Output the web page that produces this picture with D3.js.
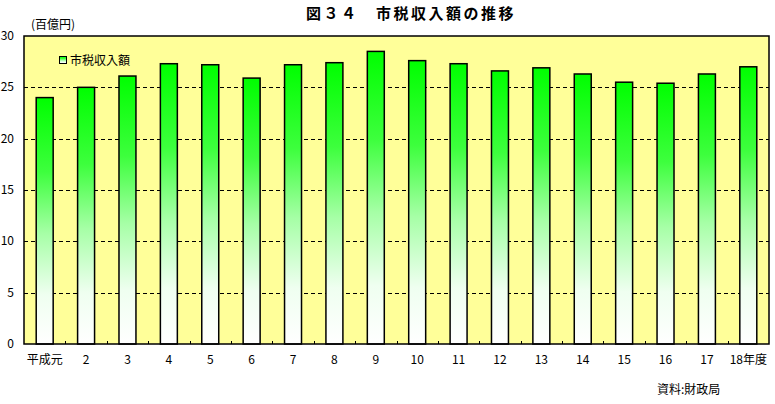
<!DOCTYPE html>
<html>
<head>
<meta charset="utf-8">
<script src="https://cdn.jsdelivr.net/npm/d3@7"></script>
<style>
  html, body { margin: 0; padding: 0; background: #ffffff; }
  svg { display: block; font-family: "Noto Sans CJK JP", "Noto Sans", sans-serif; }
</style>
</head>
<body>
<svg id="chart" width="775" height="404"></svg>
<script>
const categories = ["平成元","2","3","4","5","6","7","8","9","10","11","12","13","14","15","16","17","18年度"];
const taxRevenue = [24.0,25.0,26.1,27.3,27.2,25.9,27.2,27.4,28.5,27.6,27.3,26.6,26.9,26.3,25.5,25.4,26.3,27.0];
const yTicks = [0,5,10,15,20,25,30];
const seriesName = "市税収入額";
const titleText = "図３４　市税収入額の推移";
const unitText = "(百億円)";
const sourceText = "資料:財政局";

const svg = d3.select("#chart");
const m = {left: 24, right: 769, top: 36, bottom: 344};

const x = d3.scaleBand().domain(categories).range([m.left, m.right]).paddingInner(0.59).paddingOuter(0.295);
const xb = d3.scaleBand().domain(categories).range([m.left, m.right]);
const y = d3.scaleLinear().domain([0, 30]).range([m.bottom, m.top]);

const defs = svg.append("defs");
const grad = defs.append("linearGradient").attr("id", "g").attr("x1", 0).attr("y1", 0).attr("x2", 0).attr("y2", 1);
[[0,"#00ff00"],[0.3,"#3dff3d"],[0.55,"#a6ffa6"],[0.8,"#effff0"],[1,"#ffffff"]].forEach(([o,c]) =>
  grad.append("stop").attr("offset", o).attr("stop-color", c));

// plot area background
svg.append("rect").attr("x", m.left).attr("y", m.top).attr("width", m.right - m.left).attr("height", m.bottom - m.top)
  .attr("fill", "#ffff99");

// gridlines
svg.append("g").selectAll("line").data(yTicks.filter(d => d > 0 && d < 30)).join("line")
  .attr("x1", m.left).attr("x2", m.right).attr("y1", d => Math.round(y(d)) + 0.5).attr("y2", d => Math.round(y(d)) + 0.5)
  .attr("stroke", "#000").attr("stroke-width", 1).attr("stroke-dasharray", "4,3");

// x ticks at band boundaries (inside)
svg.append("g").selectAll("line").data(categories.slice(1)).join("line")
  .attr("x1", d => Math.round(xb(d)) + 0.5).attr("x2", d => Math.round(xb(d)) + 0.5)
  .attr("y1", m.bottom).attr("y2", m.bottom - 3).attr("stroke", "#000");

// bars
svg.append("g").selectAll("rect").data(taxRevenue).join("rect")
  .attr("x", (d, i) => x(categories[i]))
  .attr("y", d => y(d))
  .attr("width", x.bandwidth())
  .attr("height", d => y(0) - y(d))
  .attr("fill", "url(#g)")
  .attr("stroke", "#000").attr("stroke-width", 1.5);

// frame
svg.append("rect").attr("x", m.left).attr("y", m.top).attr("width", m.right - m.left).attr("height", m.bottom - m.top)
  .attr("fill", "none").attr("stroke", "#000").attr("stroke-width", 1.5);

// y tick labels
svg.append("g").selectAll("text").data(yTicks).join("text")
  .attr("x", 14).attr("y", d => y(d) + 4).attr("text-anchor", "end")
  .attr("font-size", 12).attr("fill", "#000").text(d => d);

// x labels
svg.append("g").selectAll("text").data(categories).join("text")
  .attr("x", d => xb(d) + xb.bandwidth() / 2).attr("y", 364).attr("text-anchor", "middle")
  .attr("font-size", 12).attr("fill", "#000").text(d => d);

// title
svg.append("text").attr("x", 411).attr("y", 19).attr("text-anchor", "middle")
  .attr("font-size", 15).attr("font-weight", "bold").attr("letter-spacing", 2.5).text(titleText);

// unit
svg.append("text").attr("x", 31).attr("y", 29).attr("font-size", 12).text(unitText);

// legend
svg.append("rect").attr("x", 59.5).attr("y", 56.5).attr("width", 7).attr("height", 7)
  .attr("fill", "url(#g)").attr("stroke", "#000").attr("stroke-width", 1);
svg.append("text").attr("x", 70).attr("y", 64.5).attr("font-size", 12).text(seriesName);

// source
svg.append("text").attr("x", 657).attr("y", 394).attr("font-size", 12).text(sourceText);
</script>
</body>
</html>
